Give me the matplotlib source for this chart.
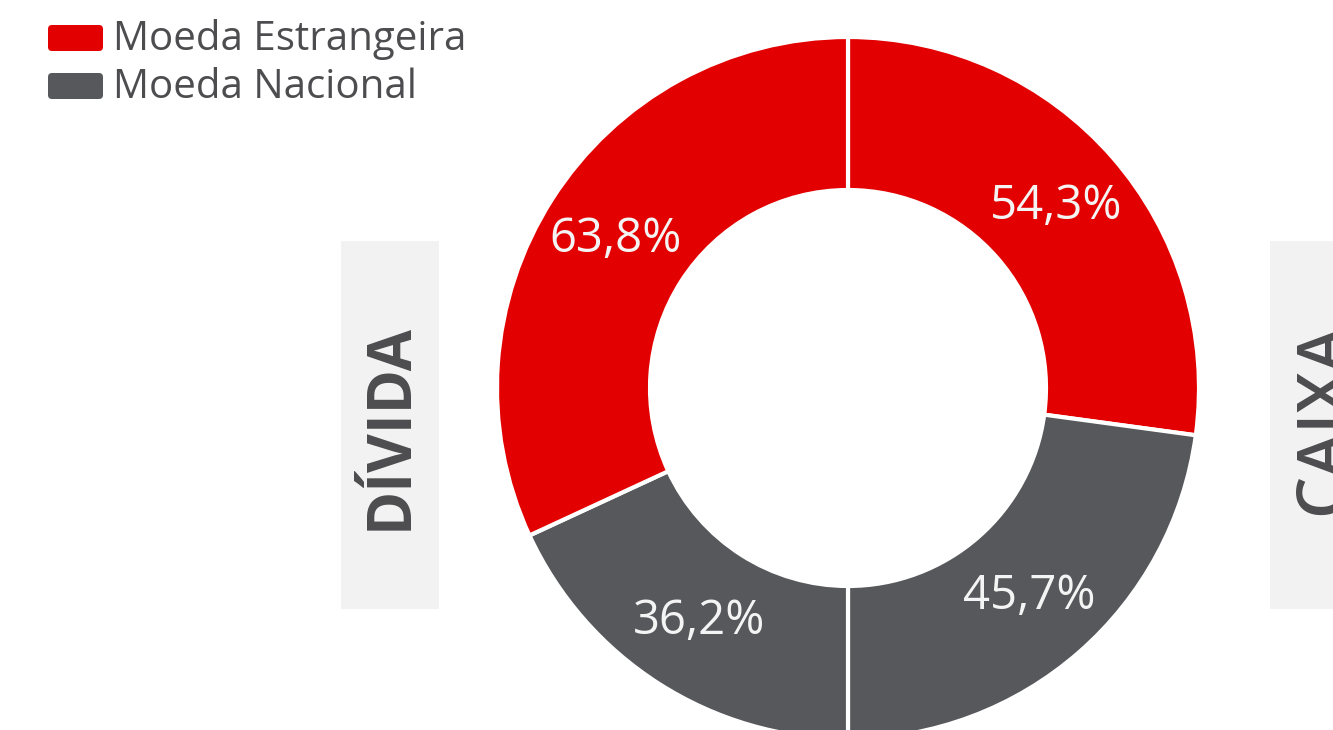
import matplotlib
matplotlib.use('Agg')
import matplotlib.pyplot as plt
from matplotlib.patches import FancyBboxPatch, Rectangle

plt.rcParams['font.family'] = ['Open Sans', 'DejaVu Sans']

# data: each half of the ring is one group (right = CAIXA, left = DÍVIDA)
groups = ['CAIXA', 'DÍVIDA']
series = ['Moeda Estrangeira', 'Moeda Nacional']
caixa = [54.3, 45.7]    # estrangeira, nacional
divida = [63.8, 36.2]   # estrangeira, nacional

RED = '#e30000'
GRAY = '#57585c'
TXT = '#4d4d50'
BOX = '#f2f2f2'

W, H = 1333, 730
fig = plt.figure(figsize=(W / 100, H / 100), dpi=100)
ax = fig.add_axes([0, 0, 1, 1])

# clockwise from top: caixa red, caixa gray, divida gray, divida red
values = [caixa[0], caixa[1], divida[1], divida[0]]
colors = [RED, GRAY, GRAY, RED]
labels = [f"{v:.1f}%".replace('.', ',') for v in values]

cx, cy = 848, H - 388
r_out, r_in = 351, 198
wedges, texts = ax.pie(values, colors=colors, labels=labels, startangle=90,
                       counterclock=False, center=(cx, cy), radius=r_out,
                       labeldistance=(r_out + r_in) / 2 / r_out + 0.005,
                       wedgeprops=dict(width=r_out - r_in, edgecolor='white', linewidth=3),
                       textprops=dict(color='#f4f4f4', fontsize=34))
for t in texts:
    t.set_ha('center')
    t.set_va('center')
ax.set_xlim(0, W)
ax.set_ylim(0, H)
ax.set_aspect('equal')
ax.axis('off')

# side labels
ax.add_patch(Rectangle((341, H - 609), 98, 368, facecolor=BOX, edgecolor='none'))
ax.add_patch(Rectangle((1270, H - 609), 98, 368, facecolor=BOX, edgecolor='none'))
ax.text(391, H - 426, groups[1], rotation=90, ha='center', va='center',
        fontsize=43, fontweight='bold', color=TXT)
ax.text(1324, H - 419, groups[0], rotation=90, ha='center', va='center',
        fontsize=48, fontweight='semibold', color=TXT)

# legend
for i, (name, col) in enumerate(zip(series, [RED, GRAY])):
    y = H - (38 + i * 48)
    ax.add_patch(FancyBboxPatch((48, y - 13), 55, 26, boxstyle='round,pad=0,rounding_size=4',
                                facecolor=col, edgecolor='none'))
    ax.text(113, y - 2, name, ha='left', va='center', fontsize=29, color=TXT)

fig.savefig('out.png', dpi=100)
